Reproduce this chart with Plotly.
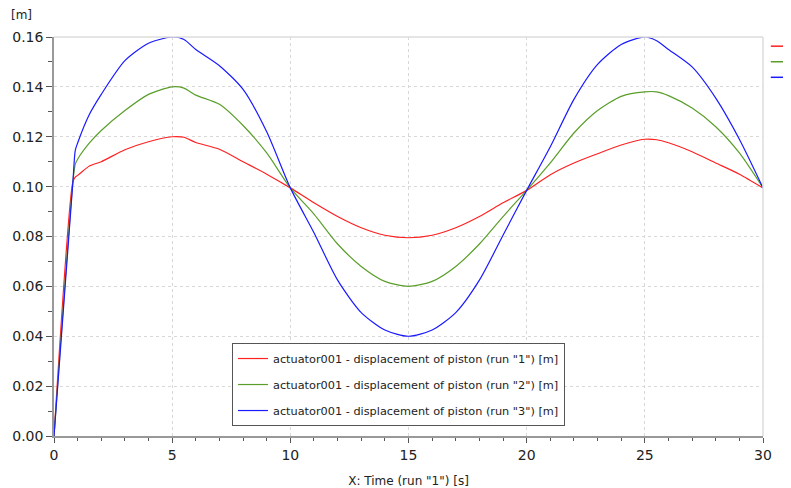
import plotly.graph_objects as go

# Datos
time = [0, 0.8, 0.9, 1, 1.5, 2, 3, 4, 5, 5.5, 6, 7, 8, 9, 10, 11, 12, 13, 14, 15,
        16, 17, 18, 19, 20, 21, 22, 23, 24, 25, 25.5, 26, 27, 28, 29, 30]
run1 = [0, 0.102, 0.1038, 0.1045, 0.1083, 0.110, 0.1148, 0.118, 0.120, 0.1198, 0.1177,
        0.115, 0.110, 0.105, 0.0995, 0.0935, 0.088, 0.0835, 0.0805, 0.0795, 0.0805,
        0.0835, 0.088, 0.0935, 0.0985, 0.1048, 0.1095, 0.1132, 0.1167, 0.119, 0.1188,
        0.1176, 0.114, 0.1095, 0.105, 0.0995]
run2 = [0, 0.102, 0.109, 0.111, 0.1175, 0.1225, 0.1305, 0.137, 0.140, 0.1395, 0.1367,
        0.133, 0.1245, 0.1135, 0.0995, 0.089, 0.077, 0.068, 0.062, 0.060, 0.062,
        0.068, 0.077, 0.088, 0.0985, 0.1095, 0.1215, 0.1305, 0.1362, 0.138, 0.138,
        0.1365, 0.1315, 0.124, 0.1135, 0.0995]
run3 = [0, 0.102, 0.1145, 0.1175, 0.129, 0.137, 0.1505, 0.1575, 0.160, 0.159, 0.155,
        0.1485, 0.139, 0.122, 0.0995, 0.0815, 0.0625, 0.0495, 0.0425, 0.040, 0.0425,
        0.0495, 0.0625, 0.0805, 0.0985, 0.116, 0.135, 0.149, 0.157, 0.160, 0.1585,
        0.155, 0.148, 0.1355, 0.119, 0.0995]
names = ['actuator001 - displacement of piston (run "1") [m]',
         'actuator001 - displacement of piston (run "2") [m]',
         'actuator001 - displacement of piston (run "3") [m]']
colors = ["#ff2020", "#5a9e2a", "#1a1aff"]

font = "DejaVu Sans"

fig = go.Figure()
for i, (ys, name, col) in enumerate(zip([run1, run2, run3], names, colors)):
    fig.add_trace(go.Scatter(
        x=time, y=ys, name=name, mode="lines", legendgroup="g%d" % i,
        line=dict(color=col, width=1.2, shape="spline", smoothing=0.7)
    ))

# la pagina deja 8px de margen en el body, se compensa aqui
fig.update_layout(
    width=783, height=480,
    autosize=False,
    plot_bgcolor="white",
    paper_bgcolor="white",
    font=dict(family=font, size=12, color="#222"),
    margin=dict(l=46, r=28, t=29, b=52, pad=0),
    legend=dict(
        x=0.251, y=0.025, xanchor="left", yanchor="bottom",
        bgcolor="white", bordercolor="#555", borderwidth=1,
        font=dict(family=font, size=11.3, color="#222"),
        tracegroupgap=7, itemwidth=30
    ),
)

fig.update_xaxes(
    range=[0, 30], tickvals=[0, 5, 10, 15, 20, 25, 30],
    ticks="outside", ticklen=5, tickcolor="#555",
    minor=dict(dtick=1, ticks="outside", ticklen=3, tickcolor="#555", showgrid=False),
    showline=True, linecolor="#999", linewidth=1.5,
    showgrid=True, gridcolor="#d8d8d8", griddash="dot", gridwidth=1,
    zeroline=False, automargin=False,
    title=dict(text='X: Time (run "1") [s]', font=dict(family=font, size=12), standoff=16),
    tickfont=dict(family=font, size=14),
)
fig.update_yaxes(
    range=[0, 0.16], tickvals=[0, 0.02, 0.04, 0.06, 0.08, 0.10, 0.12, 0.14, 0.16],
    tickformat=".2f",
    ticks="outside", ticklen=6, tickcolor="#555",
    minor=dict(dtick=0.01, ticks="outside", ticklen=4, tickcolor="#555", showgrid=False),
    showline=True, linecolor="#999", linewidth=1.5,
    showgrid=True, gridcolor="#d8d8d8", griddash="dot", gridwidth=1,
    zeroline=False, automargin=False,
    tickfont=dict(family=font, size=14),
)

# marco superior y derecho
fig.add_shape(type="line", xref="paper", yref="paper", x0=0, y0=1, x1=1, y1=1,
              line=dict(color="#dddddd", width=1.5))
fig.add_shape(type="line", xref="paper", yref="paper", x0=1, y0=0, x1=1, y1=1,
              line=dict(color="#dddddd", width=1.5))

# muestras de leyenda cortadas a la derecha
for i, col in enumerate(colors):
    fig.add_shape(type="line", xref="paper", yref="paper",
                  x0=1.011, x1=1.05, y0=0.977 - i * 0.039, y1=0.977 - i * 0.039,
                  line=dict(color=col, width=1.5))

fig.add_annotation(text="[m]", xref="paper", yref="paper", x=-0.0465, y=1.055,
                   xanchor="center", yanchor="middle", showarrow=False,
                   font=dict(family=font, size=12))

fig.write_html("out.html")
